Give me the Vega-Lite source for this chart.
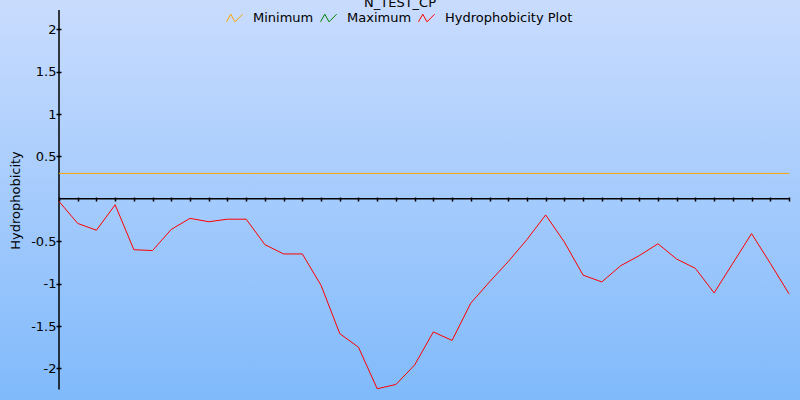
{
  "$schema": "https://vega.github.io/schema/vega-lite/v6.json",
  "width": 800,
  "height": 400,
  "autosize": "none",
  "padding": 0,
  "background": "#a4cafd",
  "config": {
    "font": "DejaVu Sans",
    "view": {
      "stroke": null,
      "fill": {"gradient": "linear", "x1": 0, "y1": 0, "x2": 0, "y2": 1, "stops": [{"offset": 0, "color": "#c9dcfe"}, {"offset": 1, "color": "#80bafb"}]}
    }
  },
  "title": {"text": "N_TEST_CP", "frame": "group", "anchor": "middle", "offset": -10, "fontSize": 13, "fontWeight": "normal", "color": "#000000", "font": "DejaVu Sans"},
  "datasets": {
    "hydro": [
      {"index": 0, "value": -0.03, "series": "Hydrophobicity Plot"},
      {"index": 1, "value": -0.29, "series": "Hydrophobicity Plot"},
      {"index": 2, "value": -0.37, "series": "Hydrophobicity Plot"},
      {"index": 3, "value": -0.07, "series": "Hydrophobicity Plot"},
      {"index": 4, "value": -0.6, "series": "Hydrophobicity Plot"},
      {"index": 5, "value": -0.61, "series": "Hydrophobicity Plot"},
      {"index": 6, "value": -0.36, "series": "Hydrophobicity Plot"},
      {"index": 7, "value": -0.23, "series": "Hydrophobicity Plot"},
      {"index": 8, "value": -0.27, "series": "Hydrophobicity Plot"},
      {"index": 9, "value": -0.24, "series": "Hydrophobicity Plot"},
      {"index": 10, "value": -0.24, "series": "Hydrophobicity Plot"},
      {"index": 11, "value": -0.54, "series": "Hydrophobicity Plot"},
      {"index": 12, "value": -0.65, "series": "Hydrophobicity Plot"},
      {"index": 13, "value": -0.65, "series": "Hydrophobicity Plot"},
      {"index": 14, "value": -1.02, "series": "Hydrophobicity Plot"},
      {"index": 15, "value": -1.59, "series": "Hydrophobicity Plot"},
      {"index": 16, "value": -1.75, "series": "Hydrophobicity Plot"},
      {"index": 17, "value": -2.24, "series": "Hydrophobicity Plot"},
      {"index": 18, "value": -2.19, "series": "Hydrophobicity Plot"},
      {"index": 19, "value": -1.96, "series": "Hydrophobicity Plot"},
      {"index": 20, "value": -1.57, "series": "Hydrophobicity Plot"},
      {"index": 21, "value": -1.67, "series": "Hydrophobicity Plot"},
      {"index": 22, "value": -1.23, "series": "Hydrophobicity Plot"},
      {"index": 23, "value": -0.98, "series": "Hydrophobicity Plot"},
      {"index": 24, "value": -0.74, "series": "Hydrophobicity Plot"},
      {"index": 25, "value": -0.48, "series": "Hydrophobicity Plot"},
      {"index": 26, "value": -0.19, "series": "Hydrophobicity Plot"},
      {"index": 27, "value": -0.51, "series": "Hydrophobicity Plot"},
      {"index": 28, "value": -0.9, "series": "Hydrophobicity Plot"},
      {"index": 29, "value": -0.98, "series": "Hydrophobicity Plot"},
      {"index": 30, "value": -0.79, "series": "Hydrophobicity Plot"},
      {"index": 31, "value": -0.67, "series": "Hydrophobicity Plot"},
      {"index": 32, "value": -0.53, "series": "Hydrophobicity Plot"},
      {"index": 33, "value": -0.71, "series": "Hydrophobicity Plot"},
      {"index": 34, "value": -0.82, "series": "Hydrophobicity Plot"},
      {"index": 35, "value": -1.11, "series": "Hydrophobicity Plot"},
      {"index": 36, "value": -0.76, "series": "Hydrophobicity Plot"},
      {"index": 37, "value": -0.41, "series": "Hydrophobicity Plot"},
      {"index": 38, "value": -0.76, "series": "Hydrophobicity Plot"},
      {"index": 39, "value": -1.12, "series": "Hydrophobicity Plot"}
    ],
    "limits": [
      {"series": "Minimum", "value": 0.3, "start": 0, "end": 39}
    ],
    "axes": [
      {"axis": "x", "x": 0, "x2": 39, "y": 0, "y2": 0},
      {"axis": "y", "x": 0, "x2": 0, "y": 2.228, "y2": -2.248}
    ]
  },
  "layer": [
    {
      "data": {"name": "axes"},
      "mark": {"type": "rule", "color": "#000000", "strokeWidth": 1.5},
      "encoding": {
        "x": {"field": "x", "type": "quantitative"},
        "x2": {"field": "x2"},
        "y": {"field": "y", "type": "quantitative"},
        "y2": {"field": "y2"}
      }
    },
    {
      "data": {"name": "limits"},
      "mark": {"type": "rule", "strokeWidth": 1},
      "encoding": {
        "y": {"field": "value", "type": "quantitative"},
        "x": {"field": "start", "type": "quantitative"},
        "x2": {"field": "end"},
        "color": {"field": "series", "type": "nominal"}
      }
    },
    {
      "data": {"name": "hydro"},
      "mark": {"type": "line", "strokeWidth": 1, "interpolate": "linear"},
      "encoding": {
        "x": {
          "field": "index", "type": "quantitative",
          "scale": {"domain": [-3.152, 39.588], "nice": false, "zero": false},
          "axis": {"orient": "bottom", "offset": -203, "tickCount": 100, "values": [0,1,2,3,4,5,6,7,8,9,10,11,12,13,14,15,16,17,18,19,20,21,22,23,24,25,26,27,28,29,30,31,32,33,34,35,36,37,38,39], "labels": false, "labelOverlap": false, "domain": false, "grid": false, "title": null, "tickSize": 4, "tickColor": "#000000", "tickWidth": 1.5}
        },
        "y": {
          "field": "value", "type": "quantitative",
          "scale": {"domain": [-2.373, 2.346], "nice": false, "zero": false},
          "axis": {"orient": "left", "offset": -61, "tickCount": 20, "values": [-2, -1.5, -1, -0.5, 0.5, 1, 1.5, 2], "labelExpr": "datum.value + ''", "labelOverlap": false, "domain": false, "grid": false, "tickSize": 5, "tickColor": "#000000", "tickWidth": 1.5, "labelPadding": 0, "labelFontSize": 13, "labelColor": "#000000", "labelFont": "DejaVu Sans", "title": "Hydrophobicity", "titleFontSize": 13, "titleFontWeight": "normal", "titleColor": "#000000", "titleFont": "DejaVu Sans", "titlePadding": 8}
        },
        "color": {
          "field": "series", "type": "nominal",
          "scale": {"domain": ["Minimum", "Maximum", "Hydrophobicity Plot"], "range": ["#ffa500", "#008000", "#ff0000"]},
          "legend": {
            "orient": "none", "direction": "horizontal", "legendX": 226, "legendY": 9, "title": null,
            "symbolType": "M-1,0.45L-0.5,-0.45L0,0.45L0.9,-0.45",
            "symbolSize": 289, "symbolStrokeWidth": 1, "symbolFillColor": "transparent",
            "labelFontSize": 13, "labelColor": "#000000", "labelFont": "DejaVu Sans", "labelOffset": 9, "columnPadding": 4, "labelLimit": 300
          }
        }
      }
    }
  ]
}
